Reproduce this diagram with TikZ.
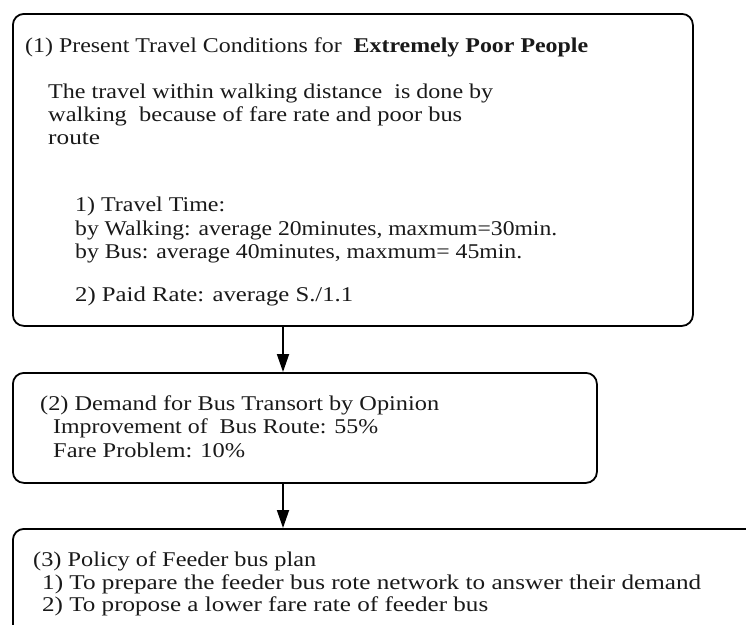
\documentclass[tikz,border=0pt]{standalone}
\usepackage{fontspec}
\usepackage{graphicx}
\setmainfont{Liberation Serif}
\usetikzlibrary{arrows.meta}

% set a line of text to a given width, keeping its height
\newcommand\linefit[2]{\resizebox{#1}{\height}{#2}}

\tikzset{
  panel/.style={draw=black, line width=1.8pt, rounded corners=11pt,
                anchor=north west, inner sep=0pt},
  txt/.style={anchor=base west, inner sep=0pt, text=black!90,
              font=\fontsize{21}{24}\selectfont},
  flow/.style={draw=black, line width=1.8pt,
               -{Triangle[length=18pt,width=12pt]}}
}

\begin{document}
\begin{tikzpicture}[x=1pt,y=-1pt]
  \useasboundingbox (0,0) rectangle (746,624);
  \clip (0,0) rectangle (746,624);

  % boxes
  \node[panel, minimum width=680pt, minimum height=312pt] (b1) at (12,13) {};
  \node[panel, minimum width=584pt, minimum height=110pt] (b2) at (12,372) {};
  \node[panel, minimum width=760pt, minimum height=130pt] (b3) at (12,528) {};

  % connectors
  \coordinate (ax) at (283,0);
  \draw[flow] (b1.south -| ax) -- (b2.north -| ax);
  \draw[flow] (b2.south -| ax) -- (b3.north -| ax);

  % (1) present travel conditions
  \node[txt] (t1) at (25,52) {\linefit{563pt}{(1) Present Travel Conditions for\ \ \textbf{Extremely Poor People}}};
  \node[txt] (t2) at (48,98) {\linefit{445pt}{The travel within walking distance\ \ is done by}};
  \node[txt] (t3) at (48,121) {\linefit{414pt}{walking\ \ because of fare rate and poor bus}};
  \node[txt] (t4) at (48,144) {\linefit{52pt}{route}};
  \node[txt] (t5) at (75,211) {\linefit{150pt}{1) Travel Time:}};
  \node[txt] (t6) at (75,235) {\linefit{482pt}{by Walking: average 20minutes, maxmum=30min.}};
  \node[txt] (t7) at (75,258) {\linefit{447pt}{by Bus: average 40minutes, maxmum= 45min.}};
  \node[txt] (t8) at (75,301) {\linefit{278pt}{2) Paid Rate: average S./1.1}};

  % (2) demand
  \node[txt] (u1) at (40,410) {\linefit{399pt}{(2) Demand for Bus Transort by Opinion}};
  \node[txt] (u2) at (53,433) {\linefit{325pt}{Improvement of\ \ Bus Route: 55\%}};
  \node[txt] (u3) at (53,457) {\linefit{192pt}{Fare Problem: 10\%}};

  % (3) policy
  \node[txt] (v1) at (33,566) {\linefit{283pt}{(3) Policy of Feeder bus plan}};
  \node[txt] (v2) at (42,589) {\linefit{659pt}{1) To prepare the feeder bus rote network to answer their demand}};
  \node[txt] (v3) at (42,611) {\linefit{446pt}{2) To propose a lower fare rate of feeder bus}};
\end{tikzpicture}
\end{document}
